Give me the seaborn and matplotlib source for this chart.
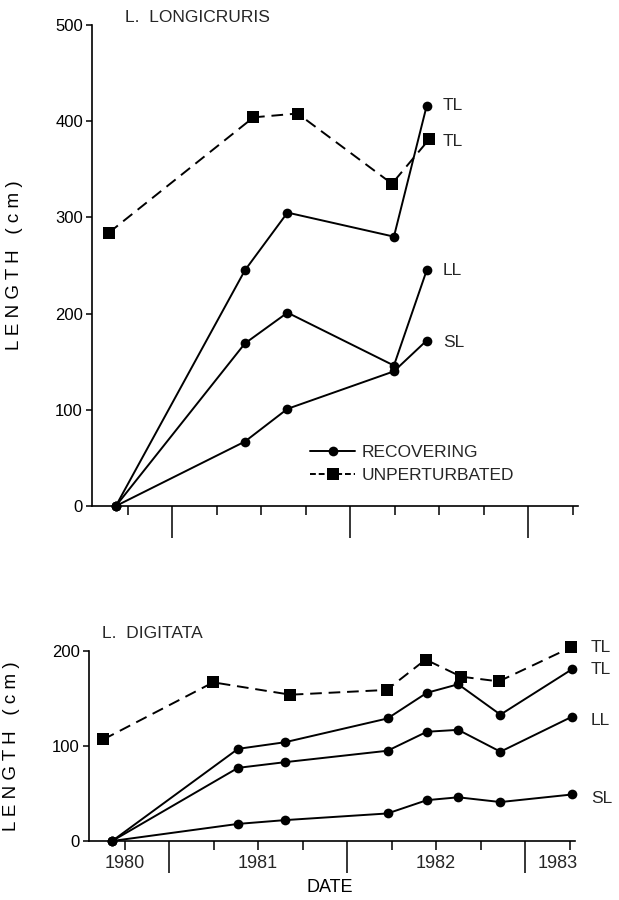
import matplotlib
matplotlib.use("Agg")
import matplotlib.pyplot as plt
import seaborn as sns
import pandas as pd
from matplotlib.lines import Line2D
from matplotlib import transforms

sns.set_theme(style="ticks")
plt.rcParams['font.family'] = ['Liberation Sans', 'DejaVu Sans']

# ---------------- data ----------------
# L. longicruris (top panel), dates in decimal years
top_rec_dates = [1980.684, 1981.409, 1981.648, 1982.246, 1982.430]
top_rec_tl = [0, 245, 305, 280, 416]
top_rec_ll = [0, 169, 201, 146, 245]
top_rec_sl = [0, 67, 101, 140, 172]
top_unp_dates = [1980.644, 1981.457, 1981.705, 1982.235, 1982.443]
top_unp_tl = [284, 404, 408, 335, 381]
top_end_labels = ["TL", "TL", "LL", "SL"]
top_end_label_y = [416, 379, 245, 170]

# L. digitata (bottom panel)
bot_rec_dates = [1980.680, 1981.387, 1981.652, 1982.227, 1982.448, 1982.624, 1982.861, 1983.265]
bot_rec_tl = [0, 97, 104, 129, 156, 165, 133, 181]
bot_rec_ll = [0, 77, 83, 95, 115, 117, 94, 131]
bot_rec_sl = [0, 18, 22, 29, 43, 46, 41, 49]
bot_unp_dates = [1980.631, 1981.248, 1981.681, 1982.222, 1982.441, 1982.640, 1982.852, 1983.259]
bot_unp_tl = [107, 167, 154, 159, 191, 173, 168, 204]
bot_end_labels = ["TL", "TL", "LL", "SL"]
bot_end_label_y = [204, 181, 127, 45]

year_labels = ["1980", "1981", "1982", "1983"]
year_label_pos = [1980.75, 1981.5, 1982.5, 1983.18]
long_ticks = [1981.0, 1982.0, 1983.0]
short_ticks = [1980.75, 1981.25, 1981.5, 1981.75, 1982.25, 1982.5, 1982.75, 1983.25]
top_yticks = [0, 100, 200, 300, 400, 500]
bot_yticks = [0, 100, 200]

# ---------------- figure ----------------
fig = plt.figure(figsize=(6.19, 9), dpi=100)
fig.patch.set_facecolor("white")

ax1 = fig.add_axes([92 / 619, 1 - 506 / 900, 486 / 619, 481 / 900])
ax2 = fig.add_axes([89 / 619, 1 - 841 / 900, 486 / 619, 190 / 900])

rec_kw = dict(color="black", marker="o", markersize=7, markeredgewidth=0,
              linewidth=1.4, errorbar=None, sort=False, clip_on=False)
unp_kw = dict(color="black", marker="s", markersize=9, markeredgewidth=0,
              linewidth=1.4, errorbar=None, sort=False, clip_on=False,
              linestyle=(0, (6, 3.5)))


def draw(ax, rdates, rseries, udates, userie):
    for s in rseries:
        sns.lineplot(x=rdates, y=s, ax=ax, **rec_kw)
    sns.lineplot(x=udates, y=userie, ax=ax, **unp_kw)


draw(ax1, top_rec_dates, [top_rec_tl, top_rec_ll, top_rec_sl], top_unp_dates, top_unp_tl)
draw(ax2, bot_rec_dates, [bot_rec_tl, bot_rec_ll, bot_rec_sl], bot_unp_dates, bot_unp_tl)

for ax, ymax, yt in [(ax1, 500, top_yticks), (ax2, 200, bot_yticks)]:
    ax.set_xlim(1980.55, 1983.28)
    ax.set_ylim(0, ymax)
    ax.set_facecolor("white")
    ax.grid(False)
    sns.despine(ax=ax)
    for sp in ["left", "bottom"]:
        ax.spines[sp].set_linewidth(1.2)
        ax.spines[sp].set_color("black")
    ax.set_yticks(yt)
    ax.set_yticklabels([str(v) for v in yt], fontsize=12)
    ax.tick_params(axis="y", direction="out", length=4.5, width=1.1, pad=2, colors="black")
    ax.set_xticks(long_ticks)
    ax.set_xticklabels([])
    ax.set_xticks(short_ticks, minor=True)
    ax.tick_params(axis="x", which="major", direction="out", length=23, width=1.1, colors="black")
    ax.tick_params(axis="x", which="minor", direction="out", length=6.5, width=1.1, colors="black")
    ax.set_ylabel("L E N G T H   ( c m )", fontsize=13.5, color="black")
    ax.yaxis.set_label_coords(-0.143, 0.5)
    ax.set_xlabel("")

# end labels
for txt, yv in zip(top_end_labels, top_end_label_y):
    ax1.text(1982.52, yv, txt, fontsize=12.5, ha="left", va="center", clip_on=False)
for txt, yv in zip(bot_end_labels, bot_end_label_y):
    ax2.text(1983.37, yv, txt, fontsize=12.5, ha="left", va="center", clip_on=False)

# year labels and DATE
trans = transforms.blended_transform_factory(ax2.transData, ax2.transAxes)
for lab, xp in zip(year_labels, year_label_pos):
    ax2.text(xp, -0.118, lab, transform=trans, fontsize=13, ha="center", va="center")
ax2.set_xlabel("DATE", fontsize=13, color="black")
ax2.xaxis.set_label_coords(0.496, -0.245)
ax2.xaxis.label.set_verticalalignment("center")

# panel titles
fig.text(125 / 619, 1 - 18 / 900, "L.  LONGICRURIS", fontsize=12.5, ha="left", va="center")
fig.text(102 / 619, 1 - 633 / 900, "L.  DIGITATA", fontsize=12.5, ha="left", va="center")

# legend
handles = [
    Line2D([], [], color="black", marker="o", markersize=7, markeredgewidth=0, linewidth=1.4),
    Line2D([], [], color="black", marker="s", markersize=9, markeredgewidth=0, linewidth=1.4,
           linestyle=(0, (3, 1.5))),
]
leg = ax1.legend(handles, ["RECOVERING", "UNPERTURBATED"], loc="upper left",
                 bbox_to_anchor=(310 / 619, 1 - 445 / 900), bbox_transform=fig.transFigure,
                 frameon=False, fontsize=12.5, handlelength=2.6, handletextpad=0.4,
                 labelspacing=0.45, borderpad=0, borderaxespad=0)

fig.savefig("out.png", dpi=100, facecolor="white")
